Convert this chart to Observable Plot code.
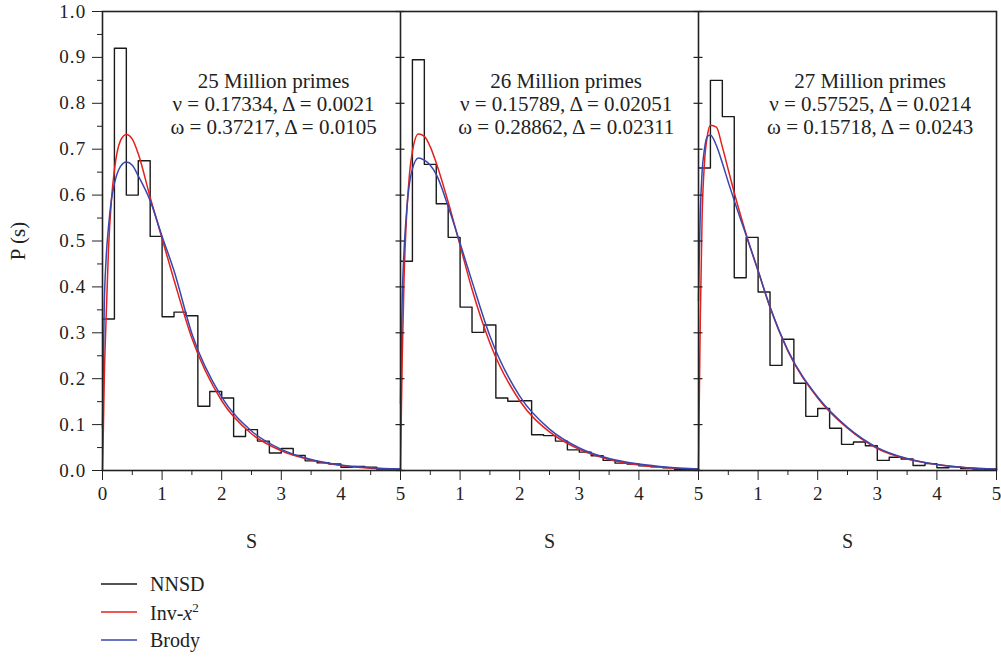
<!DOCTYPE html>
<html>
<head>
<meta charset="utf-8">
<script src="https://cdn.jsdelivr.net/npm/d3@7"></script>
<script src="https://cdn.jsdelivr.net/npm/@observablehq/plot@0.6"></script>
<style>
  body { margin: 0; background: #fff; font-family: "Liberation Serif", serif; color: #222; }
  #chart svg, #chart svg text, #chart svg g { font-family: "Liberation Serif", serif !important; }
  #chart g[aria-label="y-axis tick label"] text { letter-spacing: 1.2px; }
  #legend { margin: 8px 0 0 101px; font-size: 20px; }
  .row { display: flex; align-items: center; height: 28px; }
  .row svg { margin-right: 13px; }
</style>
</head>
<body>
<div id="chart"></div>
<div id="legend"></div>
<script>
// ---------- data ----------
const panelTitles = ["25 Million primes", "26 Million primes", "27 Million primes"];
const nuLines = ["ν = 0.17334, Δ = 0.0021", "ν = 0.15789, Δ = 0.02051", "ν = 0.57525, Δ = 0.0214"];
const omegaLines = ["ω = 0.37217, Δ = 0.0105", "ω = 0.28862, Δ = 0.02311", "ω = 0.15718, Δ = 0.0243"];

// left edges of NNSD bins (width 0.2)
const binEdges = [0, 0.2, 0.4, 0.6, 0.8, 1.0, 1.2, 1.4, 1.6, 1.8, 2.0, 2.2, 2.4, 2.6, 2.8, 3.0, 3.2, 3.4, 3.6, 3.8, 4.0, 4.2, 4.4, 4.6, 4.8];
const binEnd = 5;
const nnsd25 = [0.33, 0.92, 0.60, 0.675, 0.51, 0.335, 0.345, 0.337, 0.14, 0.172, 0.158, 0.074, 0.089, 0.064, 0.038, 0.048, 0.033, 0.021, 0.017, 0.014, 0.007, 0.009, 0.007, 0.003, 0.003];
const nnsd26 = [0.456, 0.895, 0.667, 0.581, 0.508, 0.356, 0.301, 0.317, 0.158, 0.151, 0.152, 0.078, 0.076, 0.064, 0.045, 0.040, 0.032, 0.022, 0.016, 0.014, 0.010, 0.008, 0.006, 0.002, 0.002];
const nnsd27 = [0.659, 0.850, 0.771, 0.420, 0.508, 0.389, 0.229, 0.286, 0.190, 0.118, 0.135, 0.092, 0.057, 0.062, 0.054, 0.022, 0.029, 0.025, 0.011, 0.015, 0.006, 0.008, 0.004, 0.003, 0.002];

// fitted curves, read at these s values
const curveS = [0, 0.01, 0.03, 0.06, 0.1, 0.15, 0.2, 0.3, 0.4, 0.5, 0.6, 0.8, 1.0, 1.2, 1.5, 2.0, 2.5, 3.0, 3.5, 4.0, 4.5, 5.0];
const inv25 = [0, 0.06, 0.20, 0.33, 0.48, 0.59, 0.655, 0.718, 0.732, 0.722, 0.69, 0.595, 0.505, 0.415, 0.288, 0.152, 0.08, 0.043, 0.023, 0.011, 0.005, 0.002];
const brody25 = [0.094, 0.20, 0.36, 0.46, 0.53, 0.59, 0.625, 0.662, 0.672, 0.665, 0.642, 0.588, 0.51, 0.435, 0.298, 0.16, 0.086, 0.046, 0.024, 0.012, 0.006, 0.003];
const inv26 = [0, 0.09, 0.25, 0.42, 0.55, 0.645, 0.695, 0.733, 0.728, 0.705, 0.67, 0.585, 0.49, 0.395, 0.278, 0.152, 0.084, 0.046, 0.024, 0.012, 0.006, 0.003];
const brody26 = [0.146, 0.25, 0.38, 0.48, 0.56, 0.625, 0.657, 0.681, 0.676, 0.665, 0.645, 0.575, 0.495, 0.412, 0.293, 0.162, 0.09, 0.049, 0.026, 0.014, 0.007, 0.003];
const inv27 = [0, 0.12, 0.33, 0.55, 0.67, 0.73, 0.752, 0.748, 0.705, 0.655, 0.605, 0.515, 0.435, 0.355, 0.26, 0.158, 0.092, 0.048, 0.025, 0.013, 0.006, 0.003];
const brody27 = [0.37, 0.45, 0.56, 0.65, 0.70, 0.728, 0.731, 0.708, 0.67, 0.628, 0.588, 0.512, 0.435, 0.357, 0.262, 0.16, 0.094, 0.05, 0.026, 0.013, 0.006, 0.003];

const xTickValues = [0, 1, 2, 3, 4, 5];
const yTickValues = [0, 0.1, 0.2, 0.3, 0.4, 0.5, 0.6, 0.7, 0.8, 0.9, 1.0];
const legendLabels = ["NNSD", "Inv-<i>x</i><sup style=\"font-size:13px\">2</sup>", "Brody"];

// ---------- layout constants ----------
const span = 5;            // width of each panel in s units
const nPanels = 3;
const annoX = [2.87, 2.78, 2.88];
const colors = { nnsd: "#1a1a1a", inv: "#e4201c", brody: "#3a46ad" };

// ---------- build tables ----------
const nnsd = [nnsd25, nnsd26, nnsd27];
const invs = [inv25, inv26, inv27];
const brodys = [brody25, brody26, brody27];

const histRows = [];
nnsd.forEach((vals, p) => {
  binEdges.forEach((e, i) => histRows.push({ panel: p, s: e + p * span, v: vals[i] }));
  histRows.push({ panel: p, s: binEnd + p * span, v: vals[vals.length - 1] });
});
const curveRows = (arrs) => arrs.flatMap((vals, p) => curveS.map((s, i) => ({ panel: p, s: s + p * span, v: vals[i] })));
const invRows = curveRows(invs);
const brodyRows = curveRows(brodys);

const xMajor = d3.range(nPanels).flatMap(p => xTickValues.filter(t => p === 0 || t > 0).map(t => t + p * span));
const xMinor = d3.range(nPanels).flatMap(p => xTickValues.slice(0, -1).map(t => t + 0.5 + p * span));
const yMinor = yTickValues.slice(0, -1).map(v => +(v + 0.05).toFixed(2));
const separators = d3.range(1, nPanels).map(p => p * span);
const sepTicks = separators.flatMap(b => yTickValues.map(v => ({ b, v })));
const annoRows = panelTitles.map((t, p) => ({ panel: p, text: `${t}\n${nuLines[p]}\n${omegaLines[p]}` }));
const sLabels = panelTitles.map((t, p) => ({ panel: p }));

const chart = Plot.plot({
  width: 1001,
  height: 562,
  marginLeft: 102,
  marginRight: 5,
  marginTop: 11,
  marginBottom: 92,
  x: { domain: [0, span * nPanels] },
  y: { domain: [0, 1] },
  style: { fontFamily: "'Liberation Serif', serif", fontSize: "18px", color: "#222", background: "#fff" },
  marks: [
    Plot.line(histRows, { x: "s", y: "v", z: "panel", curve: "step-after", stroke: colors.nnsd, strokeWidth: 1.4 }),
    Plot.line(invRows, { x: "s", y: "v", z: "panel", curve: "monotone-x", stroke: colors.inv, strokeWidth: 1.5 }),
    Plot.line(brodyRows, { x: "s", y: "v", z: "panel", curve: "monotone-x", stroke: colors.brody, strokeWidth: 1.5 }),
    Plot.frame({ stroke: "#222", strokeWidth: 1.6 }),
    Plot.ruleX(separators, { stroke: "#222", strokeWidth: 1.6 }),
    Plot.ruleY(sepTicks, { y: "v", x1: "b", x2: "b", insetLeft: -4.5, insetRight: -4.5, stroke: "#222", strokeWidth: 1.2 }),
    Plot.axisY(yTickValues, { tickSize: 10, tickPadding: 6, tickFormat: d3.format(".1f"), fontSize: 19, stroke: "#222", label: null }),
    Plot.axisY([], { tickSize: 0, fontSize: 21, label: "P (s)", labelAnchor: "center", labelArrow: "none", labelOffset: 92 }),
    Plot.axisY(yMinor, { tickSize: 5, tickFormat: () => "", label: null, stroke: "#222" }),
    Plot.axisX(xMajor, { tickSize: 10, tickPadding: 6, fontSize: 19, stroke: "#222", label: null,
      tickFormat: d => d === 0 ? "0" : String(((d - 1) % span) + 1) }),
    Plot.axisX(xMinor, { tickSize: 5, tickFormat: () => "", label: null, stroke: "#222" }),
    Plot.text(annoRows, { x: d => d.panel * span + annoX[d.panel], y: 0.80, text: "text", fontSize: 21, lineHeight: 1.1, fill: "#222" }),
    Plot.text(sLabels, { x: d => d.panel * span + span / 2, frameAnchor: "bottom", dy: 77, text: () => "S", fontSize: 20, fill: "#222" })
  ]
});
document.getElementById("chart").appendChild(chart);

// legend
const legendColors = [colors.nnsd, colors.inv, colors.brody];
const legend = document.getElementById("legend");
legendLabels.forEach((lab, i) => {
  const row = document.createElement("div");
  row.className = "row";
  row.innerHTML = `<svg width="36" height="4"><line x1="0" x2="36" y1="2" y2="2" stroke="${legendColors[i]}" stroke-width="1.5"/></svg><span>${lab}</span>`;
  legend.appendChild(row);
});
</script>
</body>
</html>
